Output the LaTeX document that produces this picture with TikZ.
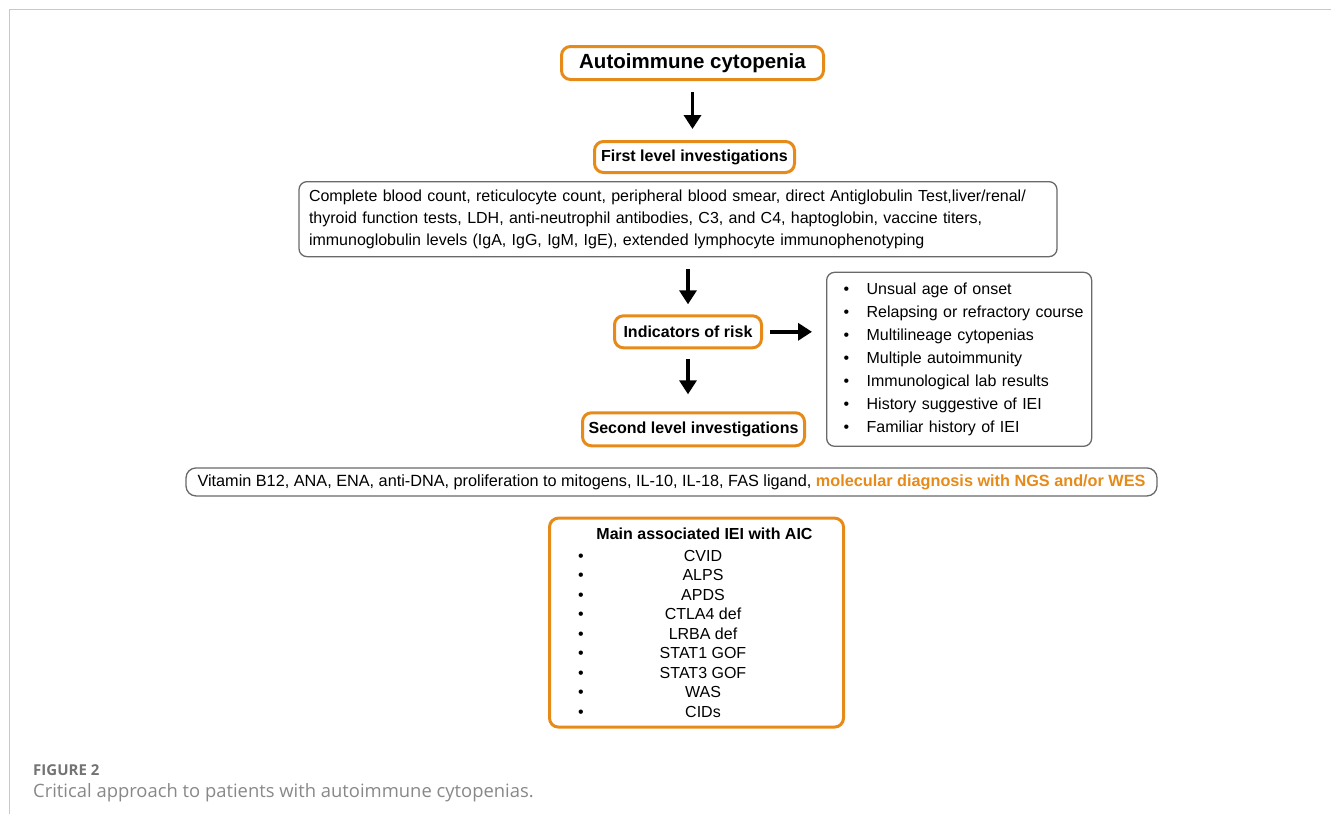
\documentclass[tikz,border=0pt]{standalone}
\usepackage{fontspec}
\setmainfont{Liberation Sans}
\newfontfamily\captionfont{Open Sans}
\usetikzlibrary{arrows.meta,positioning}

\definecolor{aicorange}{RGB}{230,138,25}
\definecolor{boxgray}{RGB}{105,105,105}
\definecolor{framegray}{RGB}{200,200,200}
\definecolor{captiongray}{RGB}{115,115,115}

\newcommand{\riskitem}[1]{\hspace*{14.5pt}\makebox[23pt][l]{\textbullet}#1}
\newcommand{\ieiitem}[1]{\makebox[252pt]{\rlap{\hspace{7.5pt}\textbullet}\hspace{13pt}\hfill#1\hfill}}

\begin{document}
\begin{tikzpicture}[
    x=1pt,
    y=-1pt,
    stage/.style={
        rectangle,
        draw=aicorange,
        line width=3pt,
        rounded corners=9pt,
        inner sep=0pt,
        align=center,
        font=\fontsize{16}{19}\selectfont\bfseries
    },
    infobox/.style={
        rectangle,
        draw=boxgray,
        line width=1.3pt,
        rounded corners=8pt,
        font=\fontsize{16}{22}\selectfont
    },
    arrow/.style={
        -{Triangle[width=17pt,length=14pt]},
        line width=3.4pt
    }
]
\useasboundingbox (0,0) rectangle (1331,814);

% Page frame
\draw[framegray, line width=1pt] (1331,9) -- (9,9) -- (9,814);

% Main flow
\node[stage, minimum width=262pt, minimum height=33pt, font=\fontsize{20.5}{24}\selectfont\bfseries] (onset) at (692.5,63) {Autoimmune cytopenia};
\node[stage, minimum width=200pt, minimum height=31pt, below=59pt of onset, xshift=2pt] (firstlvl) {First level investigations};
\node[infobox, text width=738pt, inner xsep=10pt, minimum height=75pt, align=left, below=7pt of firstlvl, xshift=-16.5pt] (firsttests) {Complete blood count, reticulocyte count, peripheral blood smear, direct Antiglobulin Test,liver/renal/\\
thyroid function tests, LDH, anti-neutrophil antibodies, C3, and C4, haptoglobin, vaccine titers,\\
immunoglobulin levels (IgA, IgG, IgM, IgE), extended lymphocyte immunophenotyping};
\node[stage, minimum width=147pt, minimum height=32pt, below=57pt of firsttests, xshift=10pt] (risk) {Indicators of risk};
\node[stage, minimum width=222pt, minimum height=33pt, below=62pt of risk, xshift=5.5pt] (secondlvl) {Second level investigations};

% Risk indicators
\node[infobox, minimum width=265pt, minimum height=174pt, text width=260pt, inner xsep=2.5pt, align=left, font=\fontsize{16}{23}\selectfont, right=63pt of risk, yshift=-27.5pt] (riskfactors) {\riskitem{Unsual age of onset}\\
\riskitem{Relapsing or refractory course}\\
\riskitem{Multilineage cytopenias}\\
\riskitem{Multiple autoimmunity}\\
\riskitem{Immunological lab results}\\
\riskitem{History suggestive of IEI}\\
\riskitem{Familiar history of IEI}};

% Second level tests and diagnoses
\node[infobox, minimum width=971pt, minimum height=28pt, rounded corners=10pt, font=\fontsize{16.25}{22}\selectfont, below=20pt of secondlvl, xshift=-22pt] (secondtests) {Vitamin B12, ANA, ENA, anti-DNA, proliferation to mitogens, IL-10, IL-18, FAS ligand, {\color{aicorange}\bfseries molecular diagnosis with NGS and/or WES}};
\node[stage, minimum width=294pt, minimum height=209pt, font=\fontsize{16}{19.5}\selectfont, below=20pt of secondtests, xshift=25pt] (ieilist) {\hspace*{16pt}{\bfseries Main associated IEI with AIC}\\[2.5pt]
\ieiitem{CVID}\\
\ieiitem{ALPS}\\
\ieiitem{APDS}\\
\ieiitem{CTLA4 def}\\
\ieiitem{LRBA def}\\
\ieiitem{STAT1 GOF}\\
\ieiitem{STAT3 GOF}\\
\ieiitem{WAS}\\
\ieiitem{CIDs}};

% Caption
\node[anchor=west, inner sep=0pt, text=captiongray, font=\captionfont\fontsize{15}{18}\selectfont\bfseries] (figlabel) at (33,770) {FIGURE 2};
\node[anchor=west, inner sep=0pt, text=captiongray!85, font=\captionfont\fontsize{18.4}{22}\selectfont] (figtext) at (33,793) {Critical approach to patients with autoimmune cytopenias.};

% Connections
\draw[arrow, shorten <=11pt, shorten >=11pt] (onset.south) -- (onset.south |- firstlvl.north);
\draw[arrow, shorten <=12pt, shorten >=10pt] (firsttests.south -| risk) -- (risk.north);
\draw[arrow, shorten <=10pt, shorten >=17pt] (risk.south) -- (risk.south |- secondlvl.north);
\draw[arrow, shorten <=7pt, shorten >=14pt] (risk.east) -- (risk.east -| riskfactors.west);

\end{tikzpicture}
\end{document}
